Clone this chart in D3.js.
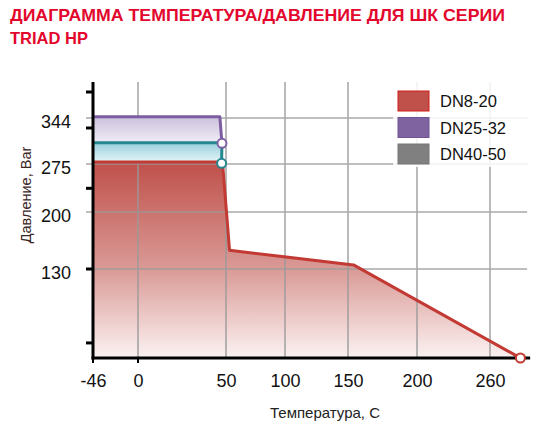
<!DOCTYPE html>
<html>
<head>
<meta charset="utf-8">
<script src="https://cdn.jsdelivr.net/npm/d3@7"></script>
<style>
  body { margin: 0; background: #fff; }
  svg { display: block; font-family: "Liberation Sans", Arial, sans-serif; }
</style>
</head>
<body>
<svg id="chart" width="550" height="426"></svg>
<script>
// temperature / pressure curves
const seriesNames = ["DN8-20", "DN25-32", "DN40-50"];
const tempDN8 = [-46, 48, 53, 154, 285];
const presDN8 = [278, 278, 153, 135, 0];
const tempDN25 = [-46, 46.5, 47.7];
const presDN25 = [346, 346, 306];
const tempDN40 = [-46, 47.7, 47.5];
const presDN40 = [307, 307, 276];
const fillBase = [0, 306, 278];

const xTickLabels = [-46, 0, 50, 100, 150, 200, 260];
const xGridValues = [0, 50, 100, 150, 200, 260];
const yTickLabels = [344, 275, 200, 130];
const yAxisMarks = [383, 329, 237, 130, 22];

// the original axes are not evenly spaced, so the scales are piecewise
const x = d3.scaleLinear()
    .domain([-46, 0, 50, 100, 150, 200, 260])
    .range([93, 138, 226, 285, 348, 417, 490]);
const y = d3.scaleLinear()
    .domain([0, 130, 200, 275, 344])
    .range([358, 269, 212, 164, 118]);

const xMax = 293, yMax = 398;
const svg = d3.select("#chart");

const colors = {
    line: ["#c23a33", "#7d5ea3", "#24868f"],
    legend: ["#c0504a", "#7f62a0", "#808080"],
    legendStroke: ["#d41a1a", "#6f5392", "#777"]
};

// title
svg.append("text").attr("x", 10).attr("y", 21)
    .attr("font-size", 16.5).attr("font-weight", "bold").attr("fill", "#e3062d")
    .attr("textLength", 495).attr("lengthAdjust", "spacingAndGlyphs")
    .text("ДИАГРАММА ТЕМПЕРАТУРА/ДАВЛЕНИЕ ДЛЯ ШК СЕРИИ");
svg.append("text").attr("x", 10).attr("y", 44)
    .attr("font-size", 16.5).attr("font-weight", "bold").attr("fill", "#e3062d")
    .attr("textLength", 78).attr("lengthAdjust", "spacingAndGlyphs")
    .text("TRIAD HP");

// gradients
const defs = svg.append("defs");
function gradient(id, y1, y2, stops) {
    const g = defs.append("linearGradient").attr("id", id)
        .attr("gradientUnits", "userSpaceOnUse")
        .attr("x1", 0).attr("x2", 0).attr("y1", y1).attr("y2", y2);
    stops.forEach(s => g.append("stop").attr("offset", s[0]).attr("stop-color", s[1]));
}
gradient("gRed", y(278), y(0), [[0, "#c0504a"], [0.55, "#da9b97"], [1, "#fbf2f2"]]);
gradient("gPurple", y(346), y(306), [[0, "#cbc0dc"], [1, "#f1eef6"]]);
gradient("gTeal", y(307), y(278), [[0, "#97cfdb"], [1, "#e4f4f7"]]);

const series = [
    { t: tempDN8, p: presDN8 },
    { t: tempDN25, p: presDN25 },
    { t: tempDN40, p: presDN40 }
].map((s, i) => ({ name: seriesNames[i], base: fillBase[i],
    pts: s.t.map((t, j) => ({ t: t, p: s.p[j] })) }));

const area = base => d3.area().x(d => x(d.t)).y0(y(base)).y1(d => y(d.p));
const line = d3.line().x(d => x(d.t)).y(d => y(d.p));

// red area first, grid over it
svg.append("path").attr("d", area(series[0].base)(series[0].pts)).attr("fill", "url(#gRed)");

const grid = svg.append("g").attr("stroke", "#9a9a9a").attr("stroke-width", 1.6).attr("opacity", 0.85);
xGridValues.forEach(v => grid.append("line")
    .attr("x1", x(v)).attr("x2", x(v)).attr("y1", y(yMax)).attr("y2", y(0)));
yTickLabels.forEach(v => grid.append("line")
    .attr("x1", v === 130 ? x(-46) : x(-46) - 7).attr("x2", x(xMax) - 3)
    .attr("y1", y(v)).attr("y2", y(v)));

// purple and teal zones
svg.append("path").attr("d", area(series[1].base)(series[1].pts)).attr("fill", "url(#gPurple)");
svg.append("path").attr("d", area(series[2].base)(series[2].pts)).attr("fill", "url(#gTeal)");

// lines
series.forEach((s, i) => {
    svg.append("path").datum(s.pts)
        .attr("d", line).attr("fill", "none")
        .attr("stroke", colors.line[i]).attr("stroke-width", 3)
        .attr("stroke-linejoin", "round");
});

// axes
const axes = svg.append("g").attr("stroke", "#000").attr("stroke-width", 3);
axes.append("line").attr("x1", x(-46)).attr("x2", x(-46)).attr("y1", y(yMax)).attr("y2", y(0) + 1.5);
axes.append("line").attr("x1", x(-46) - 1.5).attr("x2", x(xMax)).attr("y1", y(0)).attr("y2", y(0));
yAxisMarks.forEach(v => axes.append("line")
    .attr("x1", x(-46) - 7).attr("x2", x(-46)).attr("y1", y(v)).attr("y2", y(v)));
[-46, 0].forEach(v => axes.append("line").attr("stroke-width", 2)
    .attr("x1", x(v)).attr("x2", x(v)).attr("y1", y(0)).attr("y2", y(0) + 5));

// end markers
series.forEach((s, i) => {
    const last = s.pts[s.pts.length - 1];
    svg.append("circle").attr("cx", x(last.t)).attr("cy", y(last.p)).attr("r", 4.5)
        .attr("fill", "#fff").attr("stroke", colors.line[i]).attr("stroke-width", 2);
});

// tick labels
const xAxis = svg.append("g").attr("transform", "translate(0," + y(0) + ")")
    .call(d3.axisBottom(x).tickValues(xTickLabels).tickFormat(d => String(d))
        .tickSize(0).tickPadding(16));
xAxis.select(".domain").remove();
xAxis.selectAll("text").attr("font-size", 18).attr("fill", "#111").attr("font-family", null);

const yAxis = svg.append("g").attr("transform", "translate(" + x(-46) + ",0)")
    .call(d3.axisLeft(y).tickValues(yTickLabels).tickSize(0).tickPadding(22));
yAxis.select(".domain").remove();
yAxis.selectAll("text").attr("font-size", 18).attr("fill", "#111").attr("font-family", null)
    .attr("transform", "translate(0,3.5)");

// axis titles
svg.append("text").attr("x", 325).attr("y", 418).attr("text-anchor", "middle")
    .attr("font-size", 15).attr("fill", "#222").text("Температура, С");
svg.append("text").attr("transform", "translate(31,195) rotate(-90)").attr("text-anchor", "middle")
    .attr("font-size", 14.5).attr("fill", "#3a2424").text("Давление, Bar");

// legend
const legend = svg.append("g");
legend.append("rect").attr("x", 393).attr("y", 82).attr("width", 134).attr("height", 85)
    .attr("fill", "#fff").attr("opacity", 0.85);
seriesNames.forEach((n, i) => {
    const ly = 91 + i * 26.5;
    legend.append("rect").attr("x", 398).attr("y", ly).attr("width", 31).attr("height", 20)
        .attr("fill", colors.legend[i]).attr("stroke", colors.legendStroke[i]).attr("stroke-width", 1);
    legend.append("text").attr("x", 440).attr("y", ly + 16)
        .attr("font-size", 16.5).attr("fill", "#111").text(n);
});
</script>
</body>
</html>
